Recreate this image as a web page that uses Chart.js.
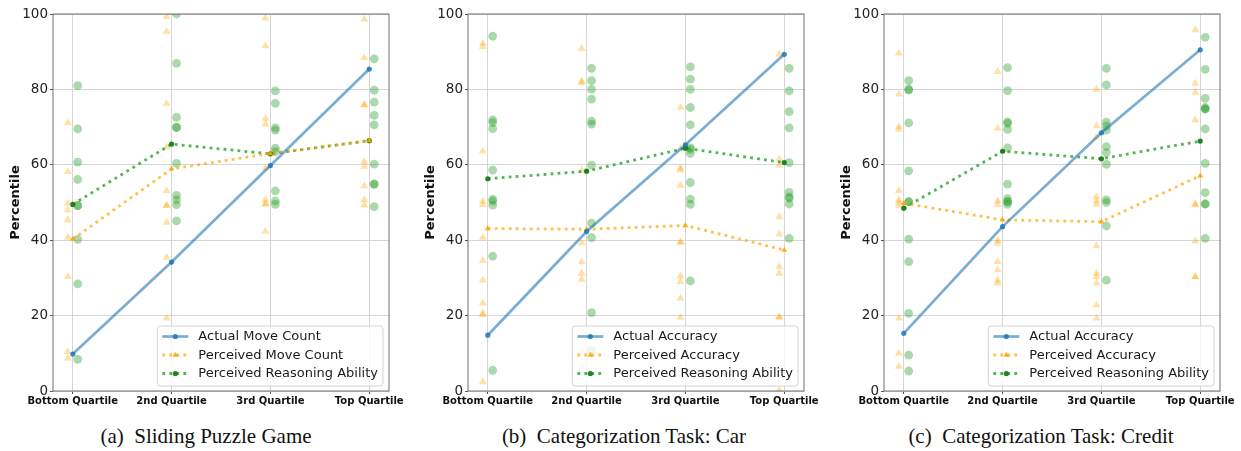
<!DOCTYPE html>
<html>
<head>
<meta charset="utf-8">
<script src="https://cdn.jsdelivr.net/npm/chart.js@4.4.0/dist/chart.umd.min.js"></script>
<style>
body { margin: 0; width: 1241px; height: 451px; background: #fff; position: relative; overflow: hidden; }
.panel { position: absolute; top: 0; width: 410px; height: 410px; }
.cap { position: absolute; top: 424px; width: 400px; text-align: center; font-family: 'Liberation Serif', 'Times New Roman', serif; font-size: 21px; color: #111; white-space: pre; }
</style>
</head>
<body>
<div class="panel" style="left:0"><canvas id="puzzle" width="410" height="410"></canvas></div>
<div class="panel" style="left:415px"><canvas id="car" width="410" height="410"></canvas></div>
<div class="panel" style="left:831px"><canvas id="credit" width="410" height="410"></canvas></div>
<div class="cap" style="left:6px">(a)  Sliding Puzzle Game</div>
<div class="cap" style="left:424px">(b)  Categorization Task: Car</div>
<div class="cap" style="left:841px">(c)  Categorization Task: Credit</div>
<script>
const quartiles = ['Bottom Quartile', '2nd Quartile', '3rd Quartile', 'Top Quartile'];

// (a) sliding puzzle
const puzzleActual = [9.8, 34.2, 59.8, 85.4];
const puzzlePerceived = [40.3, 58.9, 63.0, 66.4];
const puzzleReasoning = [49.5, 65.5, 62.9, 66.4];
const puzzlePerceivedPts = [
    [71.2, 58.2, 49.8, 48.0, 45.4, 40.7, 30.3, 10.4, 8.7],
    [99.3, 95.3, 76.2, 64.7, 53.1, 49.2, 49.2, 44.7, 35.4, 19.3],
    [98.9, 91.5, 72.3, 70.8, 59.1, 50.7, 49.6, 49.6, 42.3],
    [98.6, 88.4, 75.9, 75.9, 60.8, 59.5, 54.4, 50.7, 49.3]
];
const puzzleReasoningPts = [
    [81.0, 69.5, 60.7, 56.1, 49.2, 49.2, 40.2, 28.4, 8.4],
    [100, 86.9, 72.6, 69.9, 69.9, 60.4, 51.9, 50.7, 49.4, 45.1],
    [79.6, 76.3, 69.8, 69.2, 64.4, 63.5, 53.1, 50.4, 49.5],
    [88.1, 79.8, 76.6, 73.1, 70.6, 60.2, 54.9, 54.9, 48.9]
];

// (b) categorization: car
const carActual = [14.8, 42.3, 65.3, 89.3];
const carPerceived = [43.1, 42.9, 43.9, 37.4];
const carReasoning = [56.3, 58.3, 64.4, 60.6];
const carPerceivedPts = [
    [92.2, 91.3, 63.6, 50.3, 49.4, 40.7, 34.6, 29.4, 23.3, 20.7, 20.2, 2.4],
    [90.8, 82.2, 81.8, 58.5, 39.3, 34.2, 31.2, 29.6, 10.6, 6.0],
    [75.2, 64.4, 59.1, 58.6, 54.5, 39.6, 39.3, 30.5, 29.0, 24.6, 19.5],
    [89.3, 61.5, 59.9, 46.2, 41.6, 33.0, 31.2, 19.7, 19.5, 0.3]
];
const carReasoningPts = [
    [94.1, 71.9, 71.2, 69.6, 58.6, 50.8, 50.4, 49.3, 35.8, 5.5],
    [85.6, 82.3, 80.0, 77.4, 71.6, 70.8, 59.9, 44.5, 40.7, 20.8, 10.9],
    [86.0, 82.7, 80.0, 75.2, 70.6, 64.5, 64.1, 63.0, 55.3, 50.9, 49.5, 29.2],
    [85.6, 79.6, 74.1, 69.8, 60.6, 52.7, 51.5, 51.1, 49.6, 40.5]
];

// (c) categorization: credit
const creditActual = [15.3, 43.6, 68.5, 90.5];
const creditPerceived = [49.8, 45.4, 44.9, 57.1];
const creditReasoning = [48.5, 63.6, 61.6, 66.3];
const creditPerceivedPts = [
    [89.6, 78.7, 70.1, 69.4, 53.1, 50.7, 50.0, 49.2, 19.3, 10.0, 6.5],
    [84.7, 69.7, 50.4, 49.5, 39.9, 39.2, 34.3, 32.1, 29.4, 28.6],
    [80.0, 70.3, 67.3, 51.5, 50.4, 49.5, 38.5, 31.2, 30.3, 28.6, 22.8, 19.3],
    [95.8, 81.6, 79.2, 71.9, 49.5, 49.5, 39.8, 30.3, 30.3]
];
const creditReasoningPts = [
    [82.3, 80.1, 79.8, 71.1, 58.4, 50.2, 50.2, 40.3, 34.3, 20.6, 9.5, 5.3],
    [85.8, 79.7, 71.4, 71.0, 69.4, 64.5, 54.9, 51.0, 50.2, 50.2, 49.5],
    [85.6, 81.2, 71.3, 70.3, 69.2, 64.8, 63.2, 60.1, 50.7, 50.0, 43.8, 29.4],
    [93.8, 85.3, 77.6, 75.2, 74.8, 74.8, 69.5, 60.4, 52.6, 49.6, 49.6, 40.5]
];

Chart.defaults.font.family = '"DejaVu Sans", sans-serif';
Chart.defaults.color = '#222';

function markerPath(ctx, style, x, y, r) {
    ctx.beginPath();
    if (style === 'triangle') {
        ctx.moveTo(x, y - r);
        ctx.lineTo(x + r * 0.866, y + r * 0.5);
        ctx.lineTo(x - r * 0.866, y + r * 0.5);
        ctx.closePath();
    } else {
        ctx.arc(x, y, r, 0, Math.PI * 2);
    }
}

// frame around the plot area, like matplotlib spines
const frame = {
    id: 'frame',
    afterDatasetsDraw(chart) {
        const {ctx, chartArea: a} = chart;
        ctx.save();
        ctx.strokeStyle = '#6e6e6e';
        ctx.lineWidth = 1;
        ctx.strokeRect(a.left, a.top, a.right - a.left, a.bottom - a.top);
        ctx.restore();
    }
};

// legend box in lower right corner of the plot
const insideLegend = {
    id: 'insideLegend',
    afterDraw(chart) {
        const {ctx, chartArea} = chart;
        const items = chart.data.datasets.filter(d => d.showLine);
        ctx.save();
        ctx.font = '13px "DejaVu Sans"';
        const textW = Math.max(...items.map(d => ctx.measureText(d.label).width));
        const w = 41 + textW + 5, h = 60;
        const x0 = chartArea.right - 6 - w, y0 = chartArea.bottom - 5 - h;
        ctx.beginPath();
        ctx.roundRect(x0, y0, w, h, 3);
        ctx.fillStyle = 'rgba(255,255,255,0.8)';
        ctx.fill();
        ctx.strokeStyle = '#d4d4d4';
        ctx.lineWidth = 1;
        ctx.stroke();
        items.forEach((d, i) => {
            const y = y0 + 10.5 + i * 18.5;
            ctx.strokeStyle = d.borderColor;
            ctx.lineWidth = d.borderWidth;
            ctx.setLineDash(d.borderDash || []);
            ctx.beginPath();
            ctx.moveTo(x0 + 5, y);
            ctx.lineTo(x0 + 31, y);
            ctx.stroke();
            ctx.setLineDash([]);
            ctx.fillStyle = d.pointBackgroundColor;
            markerPath(ctx, d.pointStyle, x0 + 18, y, d.pointRadius);
            ctx.fill();
            ctx.fillStyle = '#1a1a1a';
            ctx.textBaseline = 'middle';
            ctx.fillText(d.label, x0 + 41, y + 0.5);
        });
        ctx.restore();
    }
};

function createPanel(canvasId, labels, actual, perceived, reasoning, perceivedPts, reasoningPts) {
    const line = vals => vals.map((v, i) => ({x: i, y: v}));
    const spread = (pts, shift) => pts.flatMap((vals, i) => vals.map(v => ({x: i + shift, y: v})));
    const datasets = [
        {
            label: labels[0], data: line(actual), showLine: true, order: 0,
            borderColor: 'rgba(31,119,180,0.6)', borderWidth: 2.7,
            pointStyle: 'circle', pointRadius: 2.6, pointBorderWidth: 0,
            pointBackgroundColor: 'rgba(31,119,180,0.85)'
        },
        {
            label: labels[1], data: line(perceived), showLine: true, order: 0,
            borderColor: 'rgba(255,165,0,0.7)', borderWidth: 2.8, borderDash: [2.8, 4.2],
            pointStyle: 'triangle', pointRadius: 3.3, pointBorderWidth: 0,
            pointBackgroundColor: 'rgba(255,165,0,0.9)'
        },
        {
            label: labels[2], data: line(reasoning), showLine: true, order: 0,
            borderColor: 'rgba(44,160,44,0.8)', borderWidth: 2.8, borderDash: [2.8, 4.2],
            pointStyle: 'circle', pointRadius: 2.6, pointBorderWidth: 0,
            pointBackgroundColor: 'rgba(20,128,20,0.95)'
        },
        {
            label: 'perceived points', data: spread(perceivedPts, -0.05), showLine: false, order: 1,
            pointStyle: 'triangle', pointRadius: 4.6, pointBorderWidth: 0,
            pointBackgroundColor: 'rgba(255,165,0,0.35)'
        },
        {
            label: 'reasoning points', data: spread(reasoningPts, 0.05), showLine: false, order: 1,
            pointStyle: 'circle', pointRadius: 4.4, pointBorderWidth: 0,
            pointBackgroundColor: 'rgba(44,160,44,0.4)'
        }
    ];
    return new Chart(document.getElementById(canvasId), {
        type: 'scatter',
        data: {datasets: datasets},
        plugins: [frame, insideLegend],
        options: {
            responsive: false,
            animation: false,
            layout: {autoPadding: false, padding: {top: 14, right: 21, left: 0, bottom: 0}},
            plugins: {legend: {display: false}, tooltip: {enabled: false}},
            scales: {
                x: {
                    type: 'linear', min: -0.2, max: 3.2,
                    afterBuildTicks: s => { s.ticks = [0, 1, 2, 3].map(v => ({value: v})); },
                    afterFit: s => { s.height = 19; },
                    border: {display: false},
                    grid: {color: '#d6d6d6', tickColor: '#555', tickLength: 3},
                    ticks: {
                        autoSkip: false, maxRotation: 0, padding: 1, color: '#111',
                        font: {size: 10, weight: 'bold'},
                        callback: v => quartiles[v]
                    }
                },
                y: {
                    min: 0, max: 100,
                    afterFit: s => { s.width = 53; },
                    border: {display: false},
                    grid: {color: '#d6d6d6', tickColor: '#555', tickLength: 3},
                    ticks: {stepSize: 20, padding: 2, color: '#222', font: {size: 13.5}},
                    title: {display: true, text: 'Percentile', color: '#111', padding: {top: 8, bottom: 0},
                            font: {size: 13, weight: 'bold'}}
                }
            }
        }
    });
}

createPanel('puzzle', ['Actual Move Count', 'Perceived Move Count', 'Perceived Reasoning Ability'],
    puzzleActual, puzzlePerceived, puzzleReasoning, puzzlePerceivedPts, puzzleReasoningPts);
createPanel('car', ['Actual Accuracy', 'Perceived Accuracy', 'Perceived Reasoning Ability'],
    carActual, carPerceived, carReasoning, carPerceivedPts, carReasoningPts);
createPanel('credit', ['Actual Accuracy', 'Perceived Accuracy', 'Perceived Reasoning Ability'],
    creditActual, creditPerceived, creditReasoning, creditPerceivedPts, creditReasoningPts);
</script>
</body>
</html>
